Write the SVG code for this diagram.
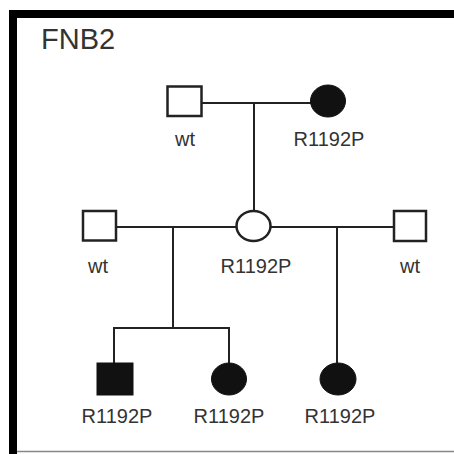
<svg xmlns="http://www.w3.org/2000/svg" width="454" height="454" viewBox="0 0 454 454">
<style>
.ln{stroke:#222;stroke-width:2;fill:none}
.open{fill:#fff;stroke:#222;stroke-width:2.5}
.fill{fill:#111;stroke:#111;stroke-width:1}
.lbl{font-family:"Liberation Sans",Arial,sans-serif;font-size:20px;fill:#333;text-anchor:middle}
.title{font-family:"Liberation Sans",Arial,sans-serif;font-size:29px;fill:#333}
</style>
<rect x="0" y="0" width="454" height="454" fill="#fff"/>
<g id="frame">
<rect x="9" y="10" width="445" height="8" fill="#000"/>
<rect x="9" y="10" width="8" height="444" fill="#000"/>
<line x1="17" y1="451.5" x2="454" y2="451.5" stroke="#888" stroke-width="1.5"/>
</g>
<text class="title" x="41" y="49">FNB2</text>
<g id="connectors">
<line class="ln" x1="202" y1="103" x2="311" y2="103"/>
<line class="ln" x1="254" y1="103" x2="254" y2="211"/>
<line class="ln" x1="117" y1="227" x2="237" y2="227"/>
<line class="ln" x1="270" y1="227" x2="394" y2="227"/>
<line class="ln" x1="173" y1="227" x2="173" y2="328"/>
<line class="ln" x1="114" y1="328" x2="229" y2="328"/>
<line class="ln" x1="114" y1="327" x2="114" y2="363"/>
<line class="ln" x1="229" y1="327" x2="229" y2="363"/>
<line class="ln" x1="337" y1="227" x2="337" y2="363"/>
</g>
<g id="gp-father">
<rect class="open" x="167.5" y="86.5" width="34" height="29.5"/>
<text class="lbl" x="185" y="146">wt</text>
</g>
<g id="gp-mother">
<ellipse class="fill" cx="328" cy="101" rx="17.5" ry="16"/>
<text class="lbl" x="329" y="146">R1192P</text>
</g>
<g id="husband1">
<rect class="open" x="83" y="211" width="33" height="29.5"/>
<text class="lbl" x="98" y="273">wt</text>
</g>
<g id="mother">
<ellipse class="open" cx="253.5" cy="226" rx="17" ry="15"/>
<text class="lbl" x="256" y="273">R1192P</text>
</g>
<g id="husband2">
<rect class="open" x="394" y="211" width="32" height="30"/>
<text class="lbl" x="410" y="273">wt</text>
</g>
<g id="son">
<rect class="fill" x="97" y="363" width="36" height="32"/>
<text class="lbl" x="117" y="423">R1192P</text>
</g>
<g id="daughter1">
<ellipse class="fill" cx="229" cy="379" rx="17.5" ry="16"/>
<text class="lbl" x="229" y="423">R1192P</text>
</g>
<g id="daughter2">
<ellipse class="fill" cx="338" cy="379" rx="18" ry="16"/>
<text class="lbl" x="340" y="423">R1192P</text>
</g>
</svg>
